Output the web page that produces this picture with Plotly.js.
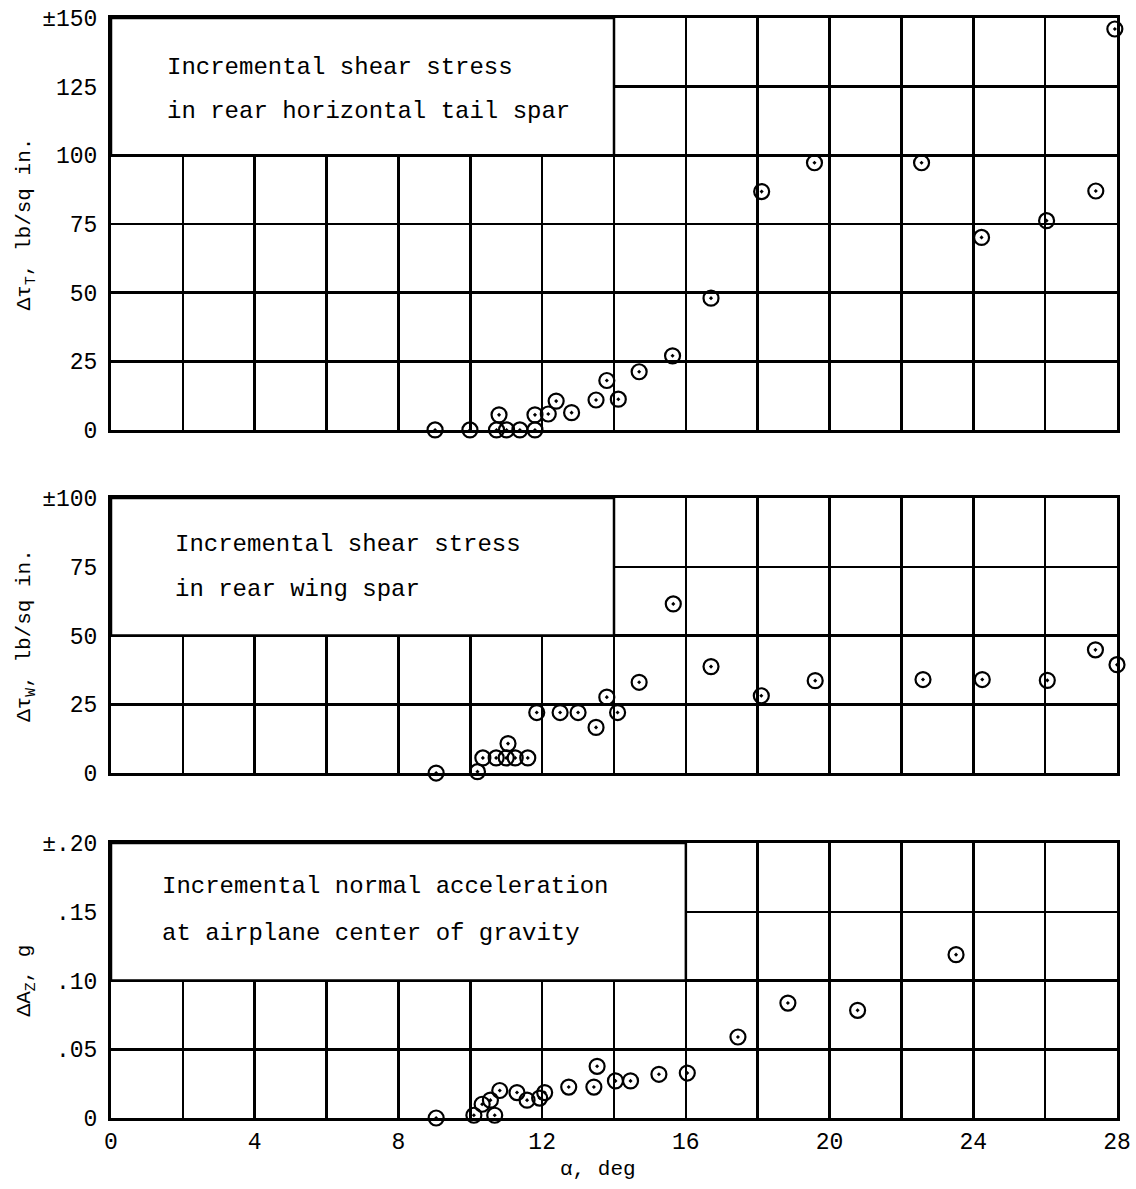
<!DOCTYPE html>
<html>
<head>
<meta charset="utf-8">
<script src="https://cdn.plot.ly/plotly-3.0.1.min.js"></script>
<style>html,body{margin:0;padding:0;background:#fff;}</style>
</head>
<body>
<div id="chart" style="width:1136px;height:1189px;"></div>
<script>
// Incremental shear stress in rear horizontal tail spar
const alphaTail = [9.02, 9.99, 10.73, 11.01, 11.38, 11.8, 10.8, 11.8, 12.17, 12.39, 12.82, 13.5, 13.8, 14.12, 14.7, 15.63, 16.7, 18.11, 19.58, 22.56, 24.23, 26.04, 27.41, 27.94];
const tauTail   = [0, 0, 0, 0, 0, 0, 5.5, 5.5, 5.8, 10.5, 6.3, 10.9, 18, 11.2, 21.2, 27, 48, 86.8, 97.3, 97.3, 70.1, 76.2, 87, 146];

// Incremental shear stress in rear wing spar
const alphaWing = [9.05, 10.2, 10.35, 10.72, 11.0, 11.25, 11.05, 11.6, 11.85, 12.5, 13.0, 13.5, 13.8, 14.1, 14.7, 15.65, 16.7, 18.1, 19.6, 22.6, 24.25, 26.06, 27.4, 28.0];
const tauWing   = [0, 0.5, 5.5, 5.5, 5.5, 5.5, 10.7, 5.5, 22, 22, 22, 16.6, 27.6, 22, 33, 61.5, 38.7, 28.1, 33.6, 34, 34, 33.7, 44.8, 39.4];

// Incremental normal acceleration at airplane center of gravity
const alphaAcc = [9.05, 10.1, 10.33, 10.56, 10.68, 10.82, 11.3, 11.58, 11.93, 12.07, 12.74, 13.44, 13.53, 14.04, 14.46, 15.25, 16.04, 17.45, 18.84, 20.78, 23.52];
const accZ     = [0, 0.002, 0.010, 0.013, 0.002, 0.020, 0.0185, 0.013, 0.0145, 0.0185, 0.0225, 0.0225, 0.0376, 0.027, 0.027, 0.0318, 0.0327, 0.0589, 0.0836, 0.0783, 0.1188];

// Tick labels
const xTickVals = [0,4,8,12,16,20,24,28];
const xTickText = ['0','4','8','12','16','20','24','28'];
const yTailVals = [0,25,50,75,100,125,150];
const yTailText = ['0','25','50','75','100','125','\u00B1150'];
const yWingVals = [0,25,50,75,100];
const yWingText = ['0','25','50','75','\u00B1100'];
const yAccVals  = [0,0.05,0.10,0.15,0.20];
const yAccText  = ['0','.05','.10','.15','\u00B1.20'];

const FONT = 'Liberation Mono, Courier New, monospace';
const marker = {symbol:'circle-open-dot', size:15, color:'#000', line:{width:2.2, color:'#000'}};

const traces = [
  {x: alphaTail, y: tauTail, xaxis:'x3', yaxis:'y3', type:'scatter', mode:'markers', marker, cliponaxis:false, showlegend:false},
  {x: alphaWing, y: tauWing, xaxis:'x2', yaxis:'y2', type:'scatter', mode:'markers', marker, cliponaxis:false, showlegend:false},
  {x: alphaAcc,  y: accZ,    xaxis:'x',  yaxis:'y',  type:'scatter', mode:'markers', marker, cliponaxis:false, showlegend:false}
];

function xax(showLabels, anchor){
  return {
    range:[0,28], anchor: anchor, domain:[0,1],
    tickmode:'array', tickvals:xTickVals, ticktext:xTickText, showticklabels: showLabels,
    showgrid:true, gridcolor:'#000', gridwidth:2.5, zeroline:false,
    minor:{dtick:2, tick0:0, showgrid:true, gridcolor:'#000', gridwidth:2.5, ticks:''},
    showline:true, linecolor:'#000', linewidth:3, mirror:true, ticks:'',
    tickfont:{family:FONT, size:23, color:'#000'}, ticklabelstandoff:0
  };
}
function yax(vals, text, range, domain, anchor, title){
  return {
    range: range, domain: domain, anchor: anchor,
    tickmode:'array', tickvals: vals, ticktext: text,
    showgrid:true, gridcolor:'#000', gridwidth:2.5, zeroline:false,
    showline:true, linecolor:'#000', linewidth:3, mirror:true, ticks:'',
    tickfont:{family:FONT, size:23, color:'#000'}, ticklabelstandoff:6,
    title:{text:title, font:{family:FONT, size:21, color:'#000'}, standoff:6}
  };
}

const boxStyle = {type:'rect', fillcolor:'#fff', line:{color:'#000', width:2.5}, layer:'above'};

const layout = {
  width:1136, height:1189,
  margin:{l:111, r:19, t:18, b:71},
  paper_bgcolor:'#fff', plot_bgcolor:'#fff',
  font:{family:FONT, color:'#000'},
  showlegend:false,
  xaxis:  xax(true, 'y'),
  xaxis2: xax(false, 'y2'),
  xaxis3: xax(false, 'y3'),
  yaxis:  yax(yAccVals, yAccText, [0,0.2], [0,0.25], 'x', '\u0394A<sub>Z</sub>, g'),
  yaxis2: yax(yWingVals, yWingText, [0,100], [0.3136,0.5636], 'x2', '\u0394\u03C4<sub>W</sub>, lb/sq in.'),
  yaxis3: yax(yTailVals, yTailText, [0,150], [0.6255,1], 'x3', '\u0394\u03C4<sub>T</sub>, lb/sq in.'),
  shapes:[
    Object.assign({xref:'x3', yref:'y3', x0:0, x1:14, y0:100, y1:150}, boxStyle),
    Object.assign({xref:'x2', yref:'y2', x0:0, x1:14, y0:50, y1:100}, boxStyle),
    Object.assign({xref:'x',  yref:'y',  x0:0, x1:16, y0:0.10, y1:0.20}, boxStyle)
  ],
  annotations:[
    {xref:'x3', yref:'y3', x:1.5, y:132, xanchor:'left', yanchor:'middle', showarrow:false, text:'Incremental shear stress', font:{family:FONT, size:24, color:'#000'}},
    {xref:'x3', yref:'y3', x:1.5, y:116, xanchor:'left', yanchor:'middle', showarrow:false, text:'in rear horizontal tail spar', font:{family:FONT, size:24, color:'#000'}},
    {xref:'x2', yref:'y2', x:1.73, y:83, xanchor:'left', yanchor:'middle', showarrow:false, text:'Incremental shear stress', font:{family:FONT, size:24, color:'#000'}},
    {xref:'x2', yref:'y2', x:1.73, y:66.7, xanchor:'left', yanchor:'middle', showarrow:false, text:'in rear wing spar', font:{family:FONT, size:24, color:'#000'}},
    {xref:'x', yref:'y', x:1.36, y:0.1684, xanchor:'left', yanchor:'middle', showarrow:false, text:'Incremental normal acceleration', font:{family:FONT, size:24, color:'#000'}},
    {xref:'x', yref:'y', x:1.36, y:0.1342, xanchor:'left', yanchor:'middle', showarrow:false, text:'at airplane center of gravity', font:{family:FONT, size:24, color:'#000'}},
    {xref:'x', yref:'paper', x:13.56, y:-0.047, xanchor:'center', yanchor:'middle', showarrow:false, text:'\u03B1, deg', font:{family:FONT, size:21, color:'#000'}}
  ]
};

Plotly.newPlot('chart', traces, layout, {displayModeBar:false, staticPlot:true});
</script>
</body>
</html>
